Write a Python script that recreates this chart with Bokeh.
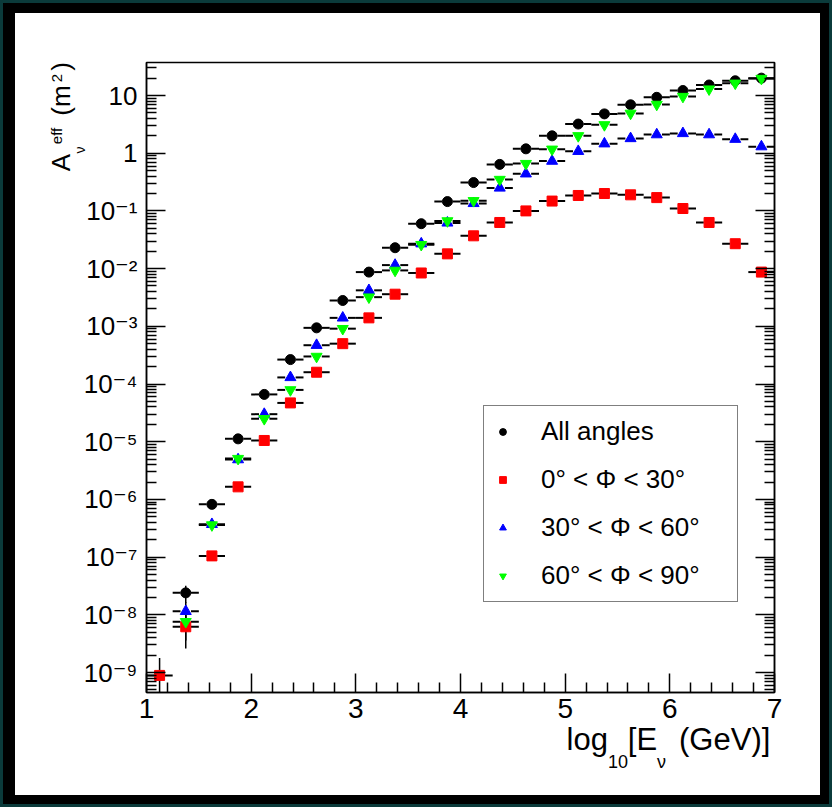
from bokeh.plotting import figure
from bokeh.models import (Range1d, FixedTicker, LogAxis, LinearAxis, Legend, LegendItem,
                          CustomJSTickFormatter)
from bokeh.embed import file_html
from bokeh.resources import INLINE

# ---------------- data ----------------
bin_centers = [1.125, 1.375, 1.625, 1.875, 2.125, 2.375, 2.625, 2.875,
               3.125, 3.375, 3.625, 3.875, 4.125, 4.375, 4.625, 4.875,
               5.125, 5.375, 5.625, 5.875, 6.125, 6.375, 6.625, 6.875]
bin_half_width = 0.125

all_angles = [None, 2.4e-8, 8.2e-7, 1.12e-5, 6.6e-5, 2.65e-4, 9.4e-4, 2.8e-3,
              8.7e-3, 0.023, 0.060, 0.145, 0.31, 0.64, 1.19, 2.0,
              3.2, 4.8, 6.9, 9.3, 12.2, 15.2, 18.0, 20.0]
phi_0_30 = [8.9e-10, 6.2e-9, 1.05e-7, 1.65e-6, 1.05e-5, 4.7e-5, 1.6e-4, 5.0e-4,
            1.4e-3, 3.6e-3, 8.4e-3, 0.018, 0.037, 0.063, 0.10, 0.148,
            0.185, 0.20, 0.19, 0.17, 0.11, 0.063, 0.027, 0.0087]
phi_30_60 = [None, 1.15e-8, 3.7e-7, 4.9e-6, 3.0e-5, 1.3e-4, 4.7e-4, 1.4e-3,
             4.2e-3, 0.0115, 0.027, 0.062, 0.135, 0.25, 0.44, 0.73,
             1.08, 1.46, 1.8, 2.1, 2.2, 2.1, 1.75, 1.3]
phi_60_90 = [None, 7.6e-9, 3.6e-7, 5.1e-6, 2.5e-5, 7.9e-5, 3.0e-4, 9.1e-4,
             3.2e-3, 9.3e-3, 0.026, 0.067, 0.15, 0.35, 0.66, 1.17,
             2.0, 3.1, 4.9, 7.0, 9.6, 12.9, 16.3, 19.7]

err_all = [0, 8e-9] + [0] * 22
err_0_30 = [9e-10, 3.6e-9] + [0] * 22
err_30_60 = [0, 5e-9] + [0] * 22
err_60_90 = [0, 4e-9] + [0] * 22

legend_labels = ["All angles", "0\u00b0 < \u03a6 < 30\u00b0",
                 "30\u00b0 < \u03a6 < 60\u00b0", "60\u00b0 < \u03a6 < 90\u00b0"]
x_ticks = [1, 2, 3, 4, 5, 6, 7]
y_decades = [-9, -8, -7, -6, -5, -4, -3, -2, -1, 0, 1]
y_tick_labels = ["10\u207b\u2079", "10\u207b\u2078", "10\u207b\u2077", "10\u207b\u2076",
                 "10\u207b\u2075", "10\u207b\u2074", "10\u207b\u00b3", "10\u207b\u00b2",
                 "10\u207b\u00b9", "1", "10"]

# axis titles, split into normal / lowered / raised pieces
x_title_main = ["log", "[E", "(GeV)]"]
x_title_sub = ["10", "\u03bd"]
y_title_main = ["A", "(m", ")"]
y_title_sub = ["\u03bd"]
y_title_sup = ["eff", "2"]

# ---------------- geometry helpers (reference pixel -> data) ----------------
FONT = "Liberation Sans"
FL, FR, FT, FB = 146, 774, 62, 692
OX, OY = 15, 13          # canvas origin on the page
PAGE_W, PAGE_H = 832, 807
W, H = 805, 782


def X(px):
    return 1 + (px - FL) * 6.0 / (FR - FL)


def Y(py):
    return 10 ** (1 - (py - 95) / 57.7)


p = figure(width=W, height=H, x_range=Range1d(1, 7), y_range=Range1d(Y(FB), Y(FT)),
           y_axis_type="log", output_backend="svg", toolbar_location=None, title=None,
           min_border_left=FL - OX, min_border_right=PAGE_W + OX - FR,
           min_border_top=FT - OY, min_border_bottom=PAGE_H + OY - FB)
p.styles = {"box-sizing": "content-box", "border-style": "solid", "border-color": "black",
            "border-width": "13px 12px 12px 15px",
            "outline": "3px solid #0b3b3b", "outline-offset": "-3px"}
p.background_fill_color = "white"
p.border_fill_color = "white"
p.outline_line_color = "black"
p.outline_line_width = 1.5
p.xgrid.visible = False
p.ygrid.visible = False

x_minor = [round(1 + 0.2 * i, 2) for i in range(31) if i % 5 != 0]
y_major = [10.0 ** k for k in y_decades]
y_minor = [m * 10.0 ** k for k in range(-10, 2) for m in range(2, 10)]
empty = CustomJSTickFormatter(code="return ''")
ylab_fmt = CustomJSTickFormatter(args=dict(decades=y_decades, labels=y_tick_labels), code="""
const k = Math.round(Math.log10(tick));
const i = decades.indexOf(k);
return i < 0 ? '' : labels[i];
""")


def style_axis(ax):
    ax.axis_line_color = "black"
    ax.axis_line_width = 1.5
    ax.major_tick_line_color = "black"
    ax.major_tick_line_width = 1.5
    ax.minor_tick_line_color = "black"
    ax.minor_tick_line_width = 1.5
    ax.major_tick_in = 19
    ax.major_tick_out = 0
    ax.minor_tick_in = 10
    ax.minor_tick_out = 0


xa = p.xaxis[0]
xa.ticker = FixedTicker(ticks=x_ticks, minor_ticks=x_minor)
style_axis(xa)
xa.major_label_text_font = FONT
xa.major_label_text_font_size = "28px"
xa.major_label_text_color = "black"
xa.major_label_standoff = 6

ya = p.yaxis[0]
ya.ticker = FixedTicker(ticks=y_major, minor_ticks=y_minor)
ya.formatter = ylab_fmt
style_axis(ya)
ya.major_label_text_font = FONT + ", DejaVu Sans"
ya.major_label_text_font_size = "26px"
ya.major_label_text_color = "black"
ya.major_label_standoff = 9

ra = LogAxis(ticker=FixedTicker(ticks=y_major, minor_ticks=y_minor), formatter=empty)
style_axis(ra)
p.add_layout(ra, "right")


# ---------------- axis titles carried by tick-less axes ----------------
def text_axis(cls, positions, labels, size, standoff, log=False, vertical=False):
    dist = "Math.abs(Math.log(pos[i]) - Math.log(tick))" if log else "Math.abs(pos[i] - tick)"
    code = f"""
let best = 0, bd = Infinity;
for (let i = 0; i < pos.length; i++) {{
  const d = {dist};
  if (d < bd) {{ bd = d; best = i }}
}}
return labels[best];"""
    ax = cls(ticker=FixedTicker(ticks=positions),
             formatter=CustomJSTickFormatter(args=dict(pos=positions, labels=labels), code=code))
    ax.axis_line_color = None
    ax.major_tick_line_color = None
    ax.minor_tick_line_color = None
    ax.major_tick_in = 0
    ax.major_tick_out = 0
    ax.minor_tick_in = 0
    ax.minor_tick_out = 0
    ax.major_label_text_font = FONT
    ax.major_label_text_font_size = f"{size}px"
    ax.major_label_text_color = "black"
    ax.major_label_standoff = standoff
    if vertical:
        ax.major_label_orientation = "vertical"
    return ax


# x title: log_10[E_nu (GeV)]  (piece centres in reference pixels)
p.add_layout(text_axis(LinearAxis, [X(586.7), X(642), X(724.2)], x_title_main, 31, 1), "below")
p.add_layout(text_axis(LinearAxis, [X(617.4), X(661)], x_title_sub, 18, -8), "below")

# y title: A_nu^eff (m^2), reading upwards
p.add_layout(text_axis(LogAxis, [Y(149.5)], y_title_sub, 14, -7, log=True, vertical=True), "left")
p.add_layout(text_axis(LogAxis, [Y(162), Y(100), Y(66)], y_title_main, 26, -7, log=True,
                       vertical=True), "left")
p.add_layout(text_axis(LogAxis, [Y(135.5), Y(77.5)], y_title_sup, 15, -22, log=True,
                       vertical=True), "left")

# ---------------- error bars ----------------
gap = 0.05
ylo_clip = Y(FB) * 0.5
series = [
    (all_angles, err_all, "circle", "black", 10),
    (phi_0_30, err_0_30, "square", "red", 10),
    (phi_30_60, err_30_60, "triangle", "blue", 11),
    (phi_60_90, err_60_90, "inverted_triangle", "lime", 11),
]
hx0, hx1, hy = [], [], []
vx, vy0, vy1 = [], [], []
for vals, errs, _, _, _ in series:
    for xc, v, e in zip(bin_centers, vals, errs):
        if v is None:
            continue
        hx0 += [xc - bin_half_width, xc + gap]
        hx1 += [xc - gap, xc + bin_half_width]
        hy += [v, v]
        if e > 0:
            vx.append(xc)
            vy0.append(max(v - e, ylo_clip))
            vy1.append(v + e)
p.segment(x0=hx0, y0=hy, x1=hx1, y1=hy, line_color="black", line_width=2)
p.segment(x0=vx, y0=vy0, x1=vx, y1=vy1, line_color="black", line_width=1.5)

renderers = []
for vals, errs, marker, color, size in series:
    xs = [xc for xc, v in zip(bin_centers, vals) if v is not None]
    ys = [v for v in vals if v is not None]
    r = p.scatter(xs, ys, marker=marker, size=size, fill_color=color, line_color=color)
    renderers.append(r)

legend = Legend(items=[LegendItem(label=lab, renderers=[r]) for lab, r in zip(legend_labels, renderers)],
                location=(483 - FL, FB - 602))
legend.label_text_font = FONT
legend.label_text_font_size = "26px"
legend.label_text_color = "black"
legend.glyph_width = 17
legend.glyph_height = 17
legend.label_height = 30
legend.label_width = 186
legend.label_standoff = 30
legend.spacing = 17
legend.padding = 10
legend.margin = 0
legend.border_line_color = "black"
legend.border_line_width = 1.5
legend.background_fill_color = "white"
legend.background_fill_alpha = 1.0
p.add_layout(legend)

open("out.html", "w").write(file_html(p, INLINE))
